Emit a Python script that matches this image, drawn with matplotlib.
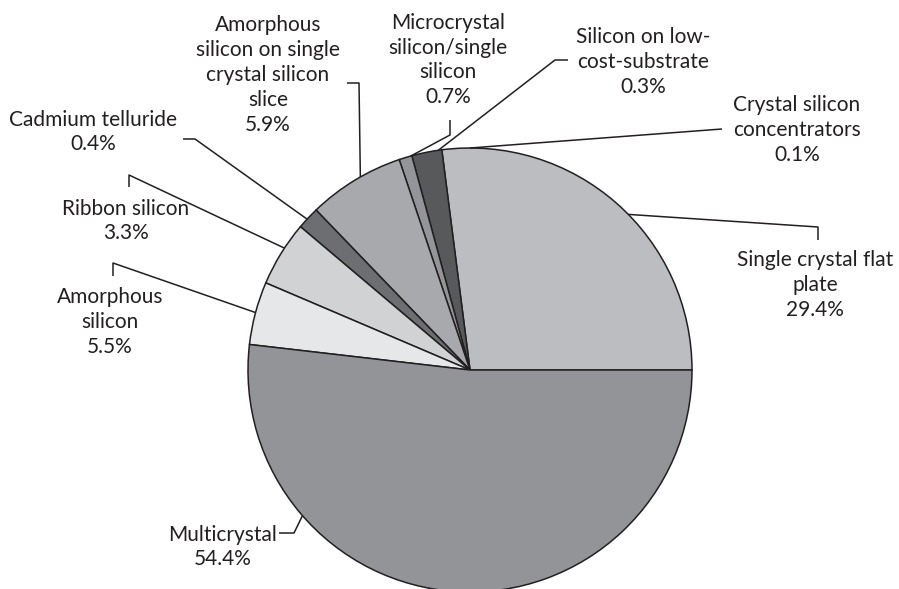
import numpy as np
import matplotlib
matplotlib.use("Agg")
import matplotlib.pyplot as plt

plt.rcParams['font.family'] = ['Lato', 'DejaVu Sans']

# slices, counter-clockwise from 3 o'clock
names = ["Single crystal flat\nplate", "Crystal silicon\nconcentrators",
         "Silicon on low-\ncost-substrate", "Microcrystal\nsilicon/single\nsilicon",
         "Amorphous\nsilicon on single\ncrystal silicon\nslice", "Cadmium telluride",
         "Ribbon silicon", "Amorphous\nsilicon", "Multicrystal"]
pct = [29.4, 0.1, 0.3, 0.7, 5.9, 0.4, 3.3, 5.5, 54.4]
# wedge sizes as drawn in the source (degrees), not the same as the labels;
# the 0.1% slice is not visible there
wedge_deg = [97.3, 0.0, 7.9, 3.4, 25.3, 5.9, 17.1, 16.5, 186.6]
colors = ["#bcbdc0", "#bcbdc0", "#58595b", "#939598", "#a7a9ac",
          "#6d6e71", "#d1d2d4", "#e6e7e8", "#939498"]

# label centre (px), leader: anchor angle on rim, elbow, end
label_xy = [(815, 285), (797, 130), (643, 62), (448, 60), (268, 75),
            (93, 132), (126, 221), (110, 322), (223, 547)]
anchor_ang = [44.5, 90, 98.2, 105.5, 119.6, 137.2, 146.7, 165, 221]
elbow = [(818, 227), None, (555, 60), (450, 135), (359, 83),
         (195, 139), (129, 175), (113, 263), (294, 533)]
tail = [(818, 240), (722, 129), (568, 60), (450, 120), (347, 83),
        (183, 139), (129, 187), (113, 276), (279, 533)]

W, H = 899, 589
cx, cy, R = 470, 370, 222
ink = "#231f20"

fig = plt.figure(figsize=(W / 100, H / 100), dpi=100)
ax = fig.add_axes([0, 0, 1, 1])
wedges, _ = ax.pie(wedge_deg, colors=colors, startangle=0, counterclock=False,
                   center=(cx, cy), radius=R,
                   wedgeprops=dict(edgecolor=ink, linewidth=1.1))
for w, d in zip(wedges, wedge_deg):
    if d == 0:
        w.remove()
ax.set_xlim(0, W)
ax.set_ylim(H, 0)
ax.set_aspect('equal')
ax.axis('off')

for i in range(len(names)):
    a = np.deg2rad(anchor_ang[i])
    px, py = cx + R * np.cos(a), cy - R * np.sin(a)
    pts = [(px, py)] + ([elbow[i]] if elbow[i] else []) + [tail[i]]
    xs, ys = zip(*pts)
    ax.plot(xs, ys, color=ink, lw=1.1, solid_capstyle='butt')
    ax.text(label_xy[i][0], label_xy[i][1], f"{names[i]}\n{pct[i]}%",
            ha='center', va='center', fontsize=15, color=ink, linespacing=1.3)

fig.savefig("out.png", dpi=100)
